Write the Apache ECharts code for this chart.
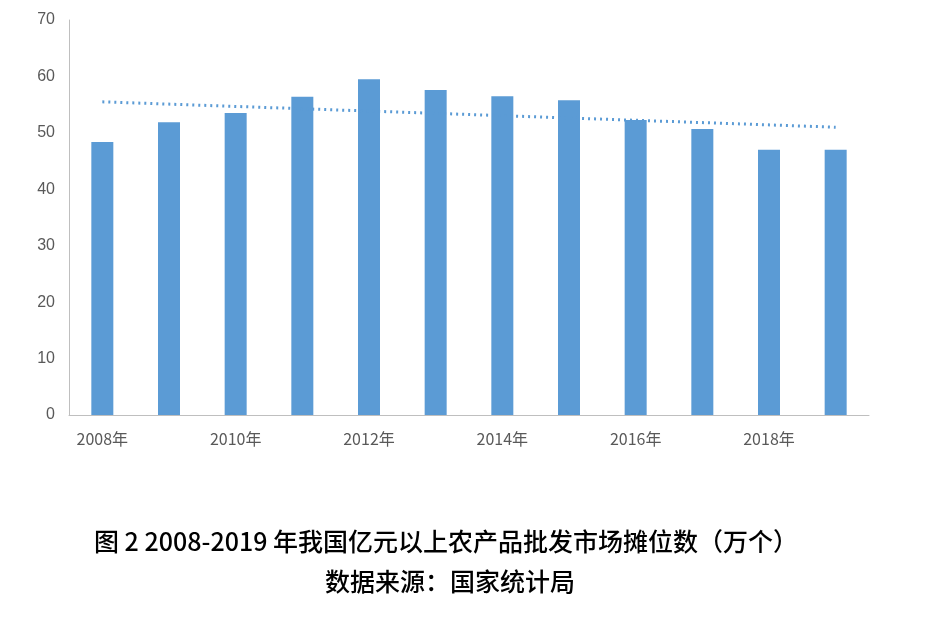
<!DOCTYPE html>
<html>
<head>
<meta charset="utf-8">
<script src="https://cdn.jsdelivr.net/npm/echarts@6/dist/echarts.min.js"></script>
<style>
  html, body { margin: 0; padding: 0; background: #fff; }
  #chart { width: 934px; height: 625px; }
</style>
</head>
<body>
<div id="chart"></div>
<script>
// 数据
const years = ['2008年', '2009年', '2010年', '2011年', '2012年', '2013年', '2014年', '2015年', '2016年', '2017年', '2018年', '2019年'];
const stalls = [48.4, 51.9, 53.5, 56.4, 59.5, 57.6, 56.5, 55.8, 52.3, 50.7, 47.0, 47.0];
// 趋势线两端
const trend = [55.5, null, null, null, null, null, null, null, null, null, null, 51.0];
const yTicks = { min: 0, max: 70, interval: 10 };

let chart = echarts.init(document.getElementById('chart'));
let option = {
    animation: false,
    title: [{
        text: '图 2 2008-2019 年我国亿元以上农产品批发市场摊位数（万个）',
        left: 441, top: 524, textAlign: 'center',
        textStyle: { fontSize: 25, fontWeight: 500, color: '#000', fontFamily: 'Noto Sans CJK SC' }
    }, {
        text: '数据来源：国家统计局',
        left: 445, top: 564, textAlign: 'center',
        textStyle: { fontSize: 25, fontWeight: 500, color: '#000', fontFamily: 'Noto Sans CJK SC' }
    }],
    grid: { left: 69, right: 65, top: 20, bottom: 210 },
    xAxis: {
        type: 'category',
        data: years,
        axisTick: { show: false },
        axisLine: { lineStyle: { color: '#bfbfbf' } },
        axisLabel: { color: '#595959', fontSize: 16, margin: 16, fontFamily: 'Noto Sans CJK SC' }
    },
    yAxis: {
        type: 'value',
        min: yTicks.min, max: yTicks.max, interval: yTicks.interval,
        axisLine: { show: true, lineStyle: { color: '#bfbfbf' } },
        axisTick: { show: false },
        splitLine: { show: false },
        axisLabel: { color: '#595959', fontSize: 16, margin: 14 }
    },
    series: [{
        type: 'bar',
        data: stalls,
        barWidth: 22,
        itemStyle: { color: '#5b9bd5' }
    }, {
        type: 'line',
        data: trend,
        connectNulls: true,
        symbol: 'none',
        lineStyle: { color: '#5b9bd5', width: 3, type: [2, 4] }
    }]
};
chart.setOption(option);
</script>
</body>
</html>
